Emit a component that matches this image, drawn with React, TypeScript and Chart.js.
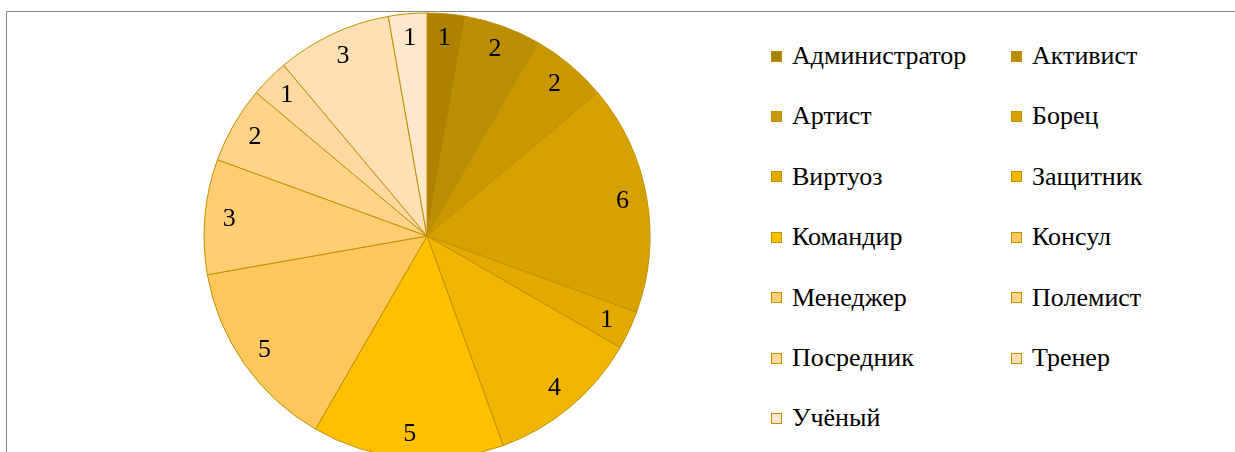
import React, { useEffect, useRef } from "react";
import { Chart, registerables } from "chart.js";

Chart.register(...registerables);

const categories = [
  "Администратор",
  "Активист",
  "Артист",
  "Борец",
  "Виртуоз",
  "Защитник",
  "Командир",
  "Консул",
  "Менеджер",
  "Полемист",
  "Посредник",
  "Тренер",
  "Учёный",
];
const values = [1, 2, 2, 6, 1, 4, 5, 5, 3, 2, 1, 3, 1];
const sliceColors = [
  "#AD8200",
  "#BC8D00",
  "#C99800",
  "#D7A200",
  "#E3AB00",
  "#F1B700",
  "#FFC000",
  "#FFC75C",
  "#FFCD72",
  "#FFD38A",
  "#FFD99F",
  "#FFE0B5",
  "#FFE7CB",
];
const sliceBorder = "#BF9000";
const FONT = "Liberation Serif";
const FONT_SIZE = 26;

const sliceLabels = {
  id: "sliceLabels",
  afterDatasetsDraw(chart: any) {
    const ctx = chart.ctx;
    const meta = chart.getDatasetMeta(0);
    ctx.save();
    ctx.font = `${FONT_SIZE}px "${FONT}"`;
    ctx.fillStyle = "#000000";
    ctx.textAlign = "center";
    ctx.textBaseline = "middle";
    meta.data.forEach((arc: any, i: number) => {
      const p = arc.getProps(["x", "y", "startAngle", "endAngle", "outerRadius"], true);
      const mid = (p.startAngle + p.endAngle) / 2;
      const r = p.outerRadius * 0.89;
      ctx.fillText(String(values[i]), p.x + Math.cos(mid) * r, p.y + Math.sin(mid) * r);
    });
    ctx.restore();
  },
};

export default function App() {
  const canvasRef = useRef<HTMLCanvasElement | null>(null);

  useEffect(() => {
    document.body.style.overflow = "hidden";
    const chart = new Chart(canvasRef.current as HTMLCanvasElement, {
      type: "pie",
      data: {
        labels: categories,
        datasets: [
          {
            data: values,
            backgroundColor: sliceColors,
            borderColor: sliceBorder,
            borderWidth: 1,
          },
        ],
      },
      options: {
        responsive: false,
        animation: false,
        radius: 223,
        layout: { padding: 0 },
        plugins: {
          legend: { display: false },
          tooltip: { enabled: false },
        },
      } as any,
      plugins: [sliceLabels],
    });
    return () => chart.destroy();
  }, []);

  return (
    <div
      style={{
        position: "absolute",
        left: 0,
        top: 0,
        width: 1235,
        height: 452,
        overflow: "hidden",
        background: "#ffffff",
      }}
    >
      <div
        style={{
          position: "absolute",
          left: 6,
          top: 11,
          width: 1250,
          height: 480,
          border: "1px solid #8A8A8A",
          boxSizing: "border-box",
        }}
      />
      <canvas
        ref={canvasRef}
        width={480}
        height={480}
        style={{ position: "absolute", left: 187, top: -4, width: 480, height: 480 }}
      />
      {categories.map((name, i) => {
        const col = i % 2;
        const row = Math.floor(i / 2);
        const cy = 56 + row * 60.4;
        const left = col === 0 ? 771 : 1011;
        return (
          <div
            key={name}
            style={{
              position: "absolute",
              left,
              top: cy - 20,
              height: 40,
              display: "flex",
              alignItems: "center",
              whiteSpace: "nowrap",
              fontFamily: FONT,
              fontSize: FONT_SIZE,
              color: "#000",
            }}
          >
            <span
              style={{
                display: "inline-block",
                width: 11,
                height: 11,
                boxSizing: "border-box",
                background: sliceColors[i],
                border: `1px solid ${sliceBorder}`,
                marginRight: 10,
                flex: "none",
              }}
            />
            <span>{name}</span>
          </div>
        );
      })}
    </div>
  );
}
